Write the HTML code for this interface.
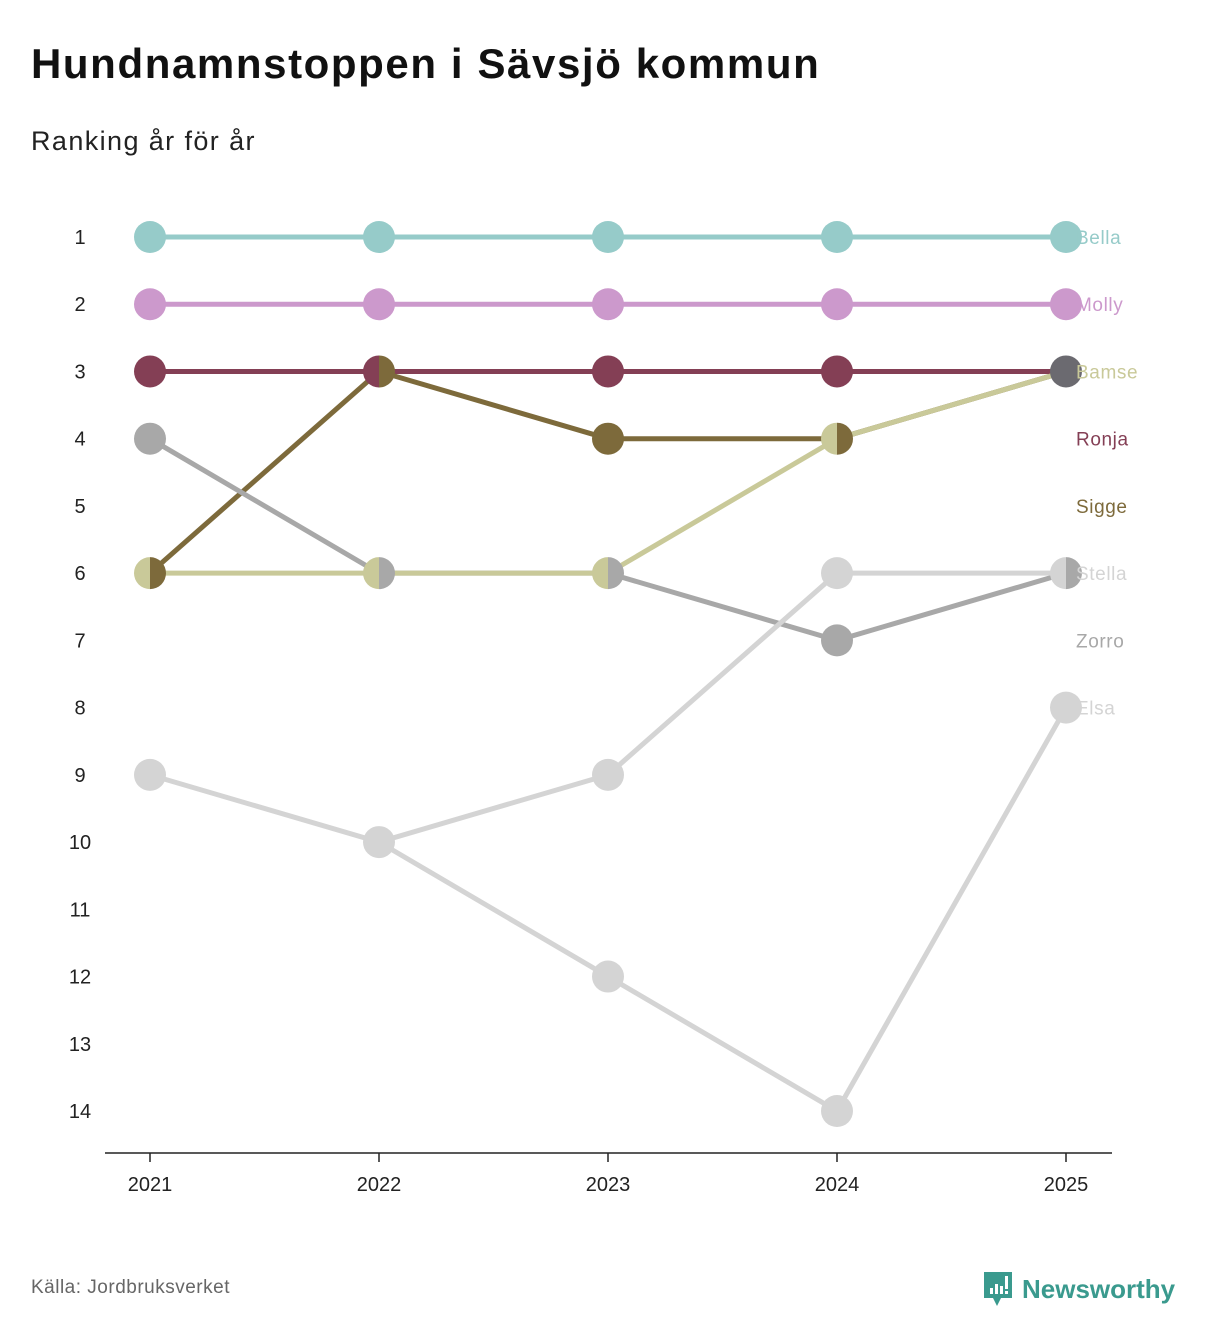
<!DOCTYPE html>
<html><head><meta charset="utf-8"><style>
body{margin:0;background:#fff;font-family:"Liberation Sans","DejaVu Sans",sans-serif;}
#wrap{position:relative;width:1212px;height:1340px;overflow:hidden}
h1{position:absolute;left:31px;top:40px;margin:0;font-size:42px;font-weight:bold;color:#111;letter-spacing:1.6px}
.sub{position:absolute;left:31px;top:126px;font-size:27px;color:#222;letter-spacing:1.4px}
.src{position:absolute;left:31px;top:1277px;font-size:19px;color:#666;letter-spacing:0.5px}
.logo{position:absolute;left:982px;top:1270px;display:flex;align-items:center;color:#3a9a8e;font-weight:bold;font-size:26px}
</style></head><body><div id="wrap">
<h1>Hundnamnstoppen i Sävsjö kommun</h1>
<div class="sub">Ranking år för år</div>
<svg id="chart" width="1212" height="1340" style="position:absolute;left:0;top:0"></svg>
<div class="src">Källa: Jordbruksverket</div>
<div class="logo"><svg width="32" height="38" viewBox="0 0 32 38"><path d="M2 2h28v26H19l-4 8-4-8H2z" fill="#3a9a8e"/><rect x="8" y="18" width="3" height="6" fill="#fff"/><rect x="13" y="14" width="3" height="10" fill="#fff"/><rect x="18" y="16" width="3" height="8" fill="#fff"/><rect x="23" y="6" width="3" height="13" fill="#fff"/><rect x="23" y="21" width="3" height="3" fill="#fff"/></svg><span style="margin-left:8px">Newsworthy</span></div>
</div>
<script>
const years=[2021,2022,2023,2024,2025];
const names=["Bella","Molly","Bamse","Ronja","Sigge","Stella","Zorro","Elsa"];
const colors=["#96cbc9","#cc99cc","#c9c999","#843f55","#7d6a3b","#d4d4d4","#a8a8a8","#d4d4d4"];
const bella=[1,1,1,1,1];
const molly=[2,2,2,2,2];
const bamse=[6,6,6,4,3];
const ronja=[3,3,3,3,3];
const sigge=[6,3,4,4,3];
const stella=[null,10,9,6,6];
const zorro=[4,6,6,7,6];
const elsa=[9,10,12,14,8];
const yTicks=[1,2,3,4,5,6,7,8,9,10,11,12,13,14];
const series=[bella,molly,bamse,ronja,sigge,stella,zorro,elsa];
const drawOrder=[0,1,3,4,6,5,7,2];
const NS="http://www.w3.org/2000/svg";
const svg=document.getElementById('chart');
const x=i=>150+i*229;
const y=r=>237+(r-1)*(1111-237)/13;
function mk(t,a){const e=document.createElementNS(NS,t);for(const k in a)e.setAttribute(k,a[k]);svg.appendChild(e);return e;}
yTicks.forEach(t=>{const e=mk('text',{x:80,y:y(t)+7,'text-anchor':'middle','font-size':20,fill:'#222'});e.textContent=t;

});
const ax=mk('line',{x1:105,x2:1112,y1:1153,y2:1153,stroke:'#222','stroke-width':1.5});


years.forEach((yr,i)=>{mk('line',{x1:x(i),x2:x(i),y1:1153,y2:1162,stroke:'#222','stroke-width':1.5});
const t=mk('text',{x:x(i),y:1191,'text-anchor':'middle','font-size':20,fill:'#222'});t.textContent=yr;

});
drawOrder.forEach(s=>{const v=series[s];let d='';v.forEach((r,i)=>{if(r==null)return;d+=(d?'L':'M')+x(i)+','+y(r);});
const p=mk('path',{d:d,fill:'none',stroke:colors[s],'stroke-width':5});

});
years.forEach((yr,i)=>{const groups={};names.forEach((n,s)=>{const r=series[s][i];if(r==null)return;(groups[r]=groups[r]||[]).push(s);});
for(const r in groups){const g=groups[r];const cx=x(i),cy=y(+r),R=16;let el;
if(g.length==1){el=mk('circle',{cx:cx,cy:cy,r:R,fill:colors[g[0]]});}
else if(g.length==2){el=mk('g',{});
const a=document.createElementNS(NS,'path');a.setAttribute('d',`M${cx},${cy-R}A${R},${R} 0 0 0 ${cx},${cy+R}Z`);a.setAttribute('fill',colors[g[0]]);el.appendChild(a);
const b=document.createElementNS(NS,'path');b.setAttribute('d',`M${cx},${cy-R}A${R},${R} 0 0 1 ${cx},${cy+R}Z`);b.setAttribute('fill',colors[g[1]]);el.appendChild(b);}
else{el=mk('circle',{cx:cx,cy:cy,r:R,fill:'#6b6a70'});}

}});
names.forEach((n,s)=>{const t=mk('text',{x:1076,y:y(s+1)+7,'font-size':19,fill:colors[s],'letter-spacing':0.6});t.textContent=n;

});
</script></body></html>
